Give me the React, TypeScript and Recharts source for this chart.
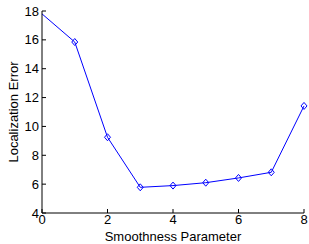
import { LineChart, Line, XAxis, YAxis } from 'recharts';

const smoothness = [0, 1, 2, 3, 4, 5, 6, 7, 8];
const locError = [17.8, 15.85, 9.25, 5.78, 5.9, 6.1, 6.43, 6.82, 11.42];
const xTicks = [0, 2, 4, 6, 8];
const yTicks = [4, 6, 8, 10, 12, 14, 16, 18];

const data = smoothness.map((s, i) => ({ s, err: locError[i] }));

const FONT = 'Liberation Sans, Arial, sans-serif';

const YTick = (props: any) => {
  const { x, y, payload } = props;
  return (
    <g>
      <line x1={x} y1={y} x2={x + 4} y2={y} stroke="#000" />
      <text x={x - 3} y={y} dy={4.5} textAnchor="end" fontSize={13} fontFamily={FONT} fill="#000">
        {payload.value}
      </text>
    </g>
  );
};

const XTick = (props: any) => {
  const { x, y, payload } = props;
  return (
    <g>
      <line x1={x} y1={y} x2={x} y2={y - 4} stroke="#000" />
      <text x={x} y={y} dy={11} textAnchor="middle" fontSize={13} fontFamily={FONT} fill="#000">
        {payload.value}
      </text>
    </g>
  );
};

const Diamond = (props: any) => {
  const { cx, cy, index } = props;
  if (index === 0) return <g key={index} />;
  return (
    <path
      key={index}
      d={`M${cx},${cy - 3.5}L${cx + 3},${cy}L${cx},${cy + 3.5}L${cx - 3},${cy}Z`}
      fill="none"
      stroke="#0000ff"
      strokeWidth={1}
    />
  );
};

export default function App() {
  return (
    <div style={{ position: 'absolute', left: 0, top: 0, background: '#fff' }}>
      <LineChart width={309} height={244} data={data} margin={{ top: 11, right: 5, bottom: 0, left: 0 }}>
        <XAxis
          dataKey="s"
          type="number"
          domain={[0, 8]}
          ticks={xTicks}
          interval={0}
          tickLine={false}
          tickSize={0}
          tickMargin={0}
          tick={<XTick />}
          axisLine={{ stroke: '#000' }}
          height={31}
          label={{ value: 'Smoothness Parameter', position: 'insideBottom', offset: 3, fontSize: 13, fontFamily: FONT, fill: '#000' }}
        />
        <YAxis
          type="number"
          domain={[4, 18]}
          ticks={yTicks}
          interval={0}
          tickLine={false}
          tickSize={0}
          tickMargin={0}
          tick={<YTick />}
          axisLine={{ stroke: '#000' }}
          width={42}
          label={{ value: 'Localization Error', angle: -90, position: 'insideLeft', offset: 13, style: { textAnchor: 'middle' }, fontSize: 13, fontFamily: FONT, fill: '#000' }}
        />
        <Line
          type="linear"
          dataKey="err"
          stroke="#0000ff"
          strokeWidth={1}
          dot={<Diamond />}
          activeDot={false}
          isAnimationActive={false}
        />
      </LineChart>
    </div>
  );
}
